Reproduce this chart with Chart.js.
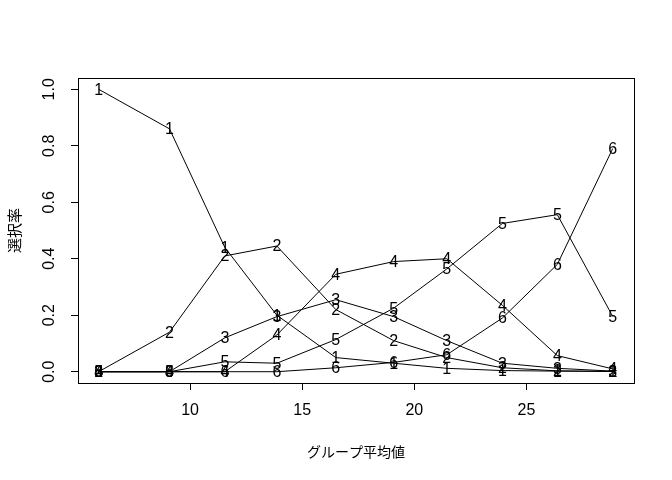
<!DOCTYPE html>
<html>
<head>
<meta charset="utf-8">
<script src="https://cdn.jsdelivr.net/npm/chart.js@4.4.1/dist/chart.umd.min.js"></script>
<style>
  html, body { margin: 0; padding: 0; background: #fff; }
  #wrap { width: 672px; height: 480px; }
</style>
</head>
<body>
<div id="wrap"><canvas id="chart" width="672" height="480"></canvas></div>
<script>
// group means (x) and selection rate of each option (1..6)
const groupMeans = [5.92, 9.08, 11.55, 13.87, 16.5, 19.08, 21.45, 23.93, 26.38, 28.85];
const option1 = [1.0, 0.86, 0.44, 0.2, 0.05, 0.03, 0.012, 0.004, 0.002, 0.001];
const option2 = [0, 0.14, 0.41, 0.445, 0.22, 0.11, 0.05, 0.014, 0.003, 0.001];
const option3 = [0, 0, 0.12, 0.195, 0.255, 0.195, 0.11, 0.03, 0.012, 0.002];
const option4 = [0, 0, 0, 0.13, 0.345, 0.39, 0.4, 0.235, 0.057, 0.01];
const option5 = [0, 0, 0.035, 0.03, 0.114, 0.225, 0.364, 0.525, 0.556, 0.196];
const option6 = [0, 0, 0, 0, 0.014, 0.033, 0.06, 0.19, 0.38, 0.79];
const optionLabels = ['1', '2', '3', '4', '5', '6'];
const xTicks = [10, 15, 20, 25];
const yTicks = [0, 0.2, 0.4, 0.6, 0.8, 1.0];
const xTitle = 'グループ平均値';
const yTitle = '選択率';

const latin = '"Liberation Sans", Arial, sans-serif';
const cjk = '"Noto Sans CJK JP", sans-serif';

const series = [option1, option2, option3, option4, option5, option6];

const datasets = series.map((vals, i) => ({
    label: optionLabels[i],
    data: vals.map((v, j) => ({ x: groupMeans[j], y: v })),
    borderColor: '#000',
    borderWidth: 1,
    tension: 0,
    showLine: true,
    pointRadius: 0
}));

// draw each point as its option number (pch = "1".."6" in R)
const digitPoints = {
    id: 'digitPoints',
    afterDatasetsDraw(chart) {
        const ctx = chart.ctx;
        ctx.save();
        ctx.fillStyle = '#000';
        ctx.font = '16px ' + latin;
        ctx.textAlign = 'center';
        ctx.textBaseline = 'middle';
        chart.data.datasets.forEach((ds, i) => {
            chart.getDatasetMeta(i).data.forEach(pt => {
                ctx.fillText(ds.label, pt.x, pt.y + 1);
            });
        });
        ctx.restore();
    }
};

const rAxes = {
    id: 'rAxes',
    afterDraw(chart) {
        const { ctx, chartArea: a, scales: { x, y } } = chart;
        ctx.save();
        ctx.strokeStyle = '#000';
        ctx.lineWidth = 1;
        ctx.strokeRect(a.left + 0.5, a.top + 0.5, a.right - a.left, a.bottom - a.top);

        ctx.fillStyle = '#000';
        ctx.font = '16px ' + latin;
        ctx.textAlign = 'center';
        ctx.textBaseline = 'middle';
        xTicks.forEach(v => {
            ctx.fillText(String(v), x.getPixelForValue(v), 411);
        });
        yTicks.forEach(v => {
            ctx.save();
            ctx.translate(50, y.getPixelForValue(v));
            ctx.rotate(-Math.PI / 2);
            ctx.fillText(v.toFixed(1), 0, 0);
            ctx.restore();
        });

        ctx.font = '14px ' + cjk;
        ctx.fillText(xTitle, (a.left + a.right) / 2, 452);
        ctx.save();
        ctx.translate(14, (a.top + a.bottom) / 2);
        ctx.rotate(-Math.PI / 2);
        ctx.font = '15px ' + cjk;
        ctx.fillText(yTitle, 0, 0);
        ctx.restore();
        ctx.restore();
    }
};

new Chart(document.getElementById('chart'), {
    type: 'scatter',
    data: { datasets },
    options: {
        responsive: false,
        animation: false,
        layout: { padding: { top: 78, right: 38, left: 0, bottom: 0 } },
        plugins: { legend: { display: false }, tooltip: { enabled: false } },
        scales: {
            x: {
                type: 'linear',
                min: 5.0,
                max: 29.8,
                afterBuildTicks: s => { s.ticks = xTicks.map(v => ({ value: v })); },
                afterFit: s => { s.height = 97; },
                ticks: { display: false },
                grid: { drawOnChartArea: false, drawTicks: true, tickLength: 7, color: '#000' },
                border: { display: false }
            },
            y: {
                type: 'linear',
                min: -0.04,
                max: 1.04,
                afterBuildTicks: s => { s.ticks = yTicks.map(v => ({ value: v })); },
                afterFit: s => { s.width = 78; },
                ticks: { display: false },
                grid: { drawOnChartArea: false, drawTicks: true, tickLength: 7, color: '#000' },
                border: { display: false }
            }
        }
    },
    plugins: [digitPoints, rAxes]
});
</script>
</body>
</html>
